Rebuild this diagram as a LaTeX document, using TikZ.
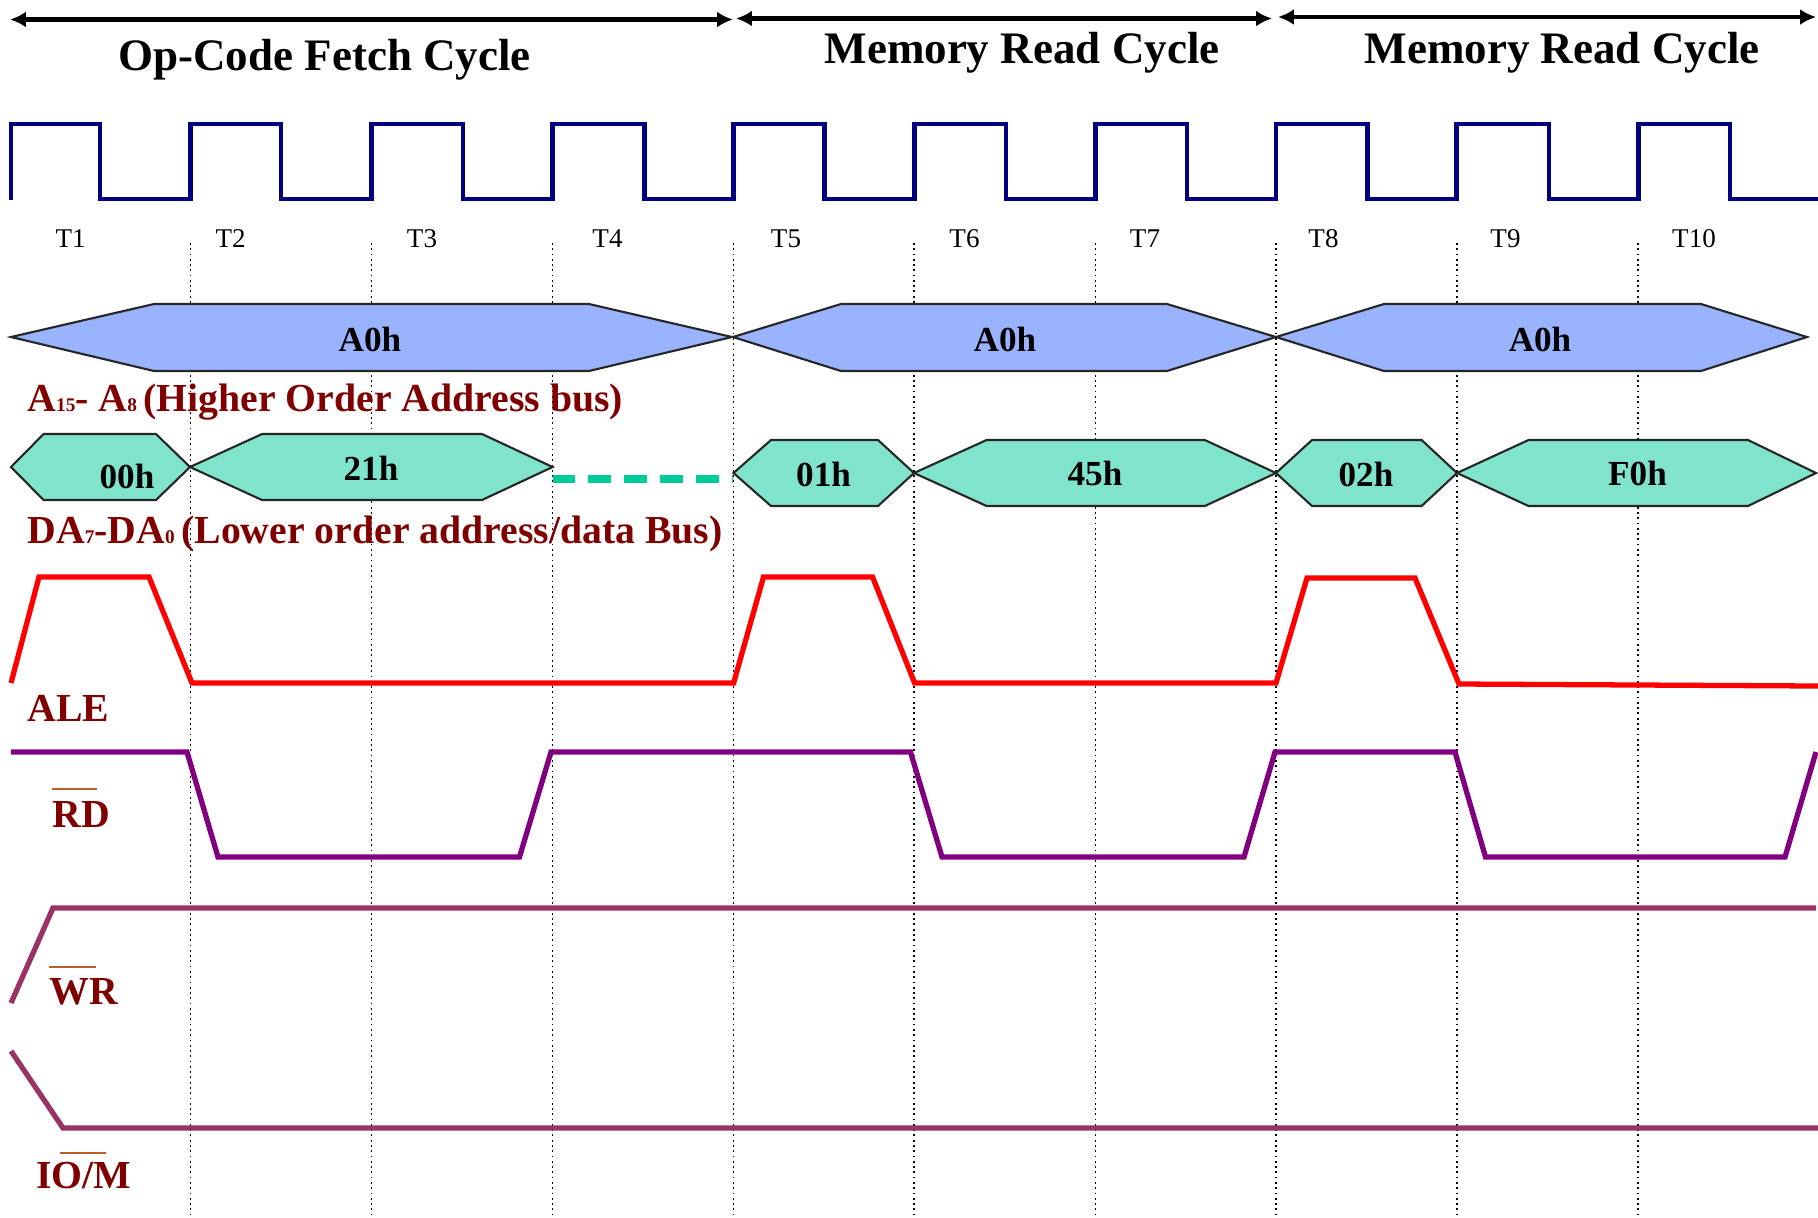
\documentclass[tikz,border=0pt]{standalone}
\usepackage{fontspec}
\setmainfont{Liberation Serif}
\usetikzlibrary{arrows.meta}
\definecolor{clk}{RGB}{0,0,128}
\definecolor{addrfill}{RGB}{153,179,255}
\definecolor{datafill}{RGB}{128,228,204}
\definecolor{dashgreen}{RGB}{0,204,153}
\definecolor{alecol}{RGB}{255,0,0}
\definecolor{rdcol}{RGB}{128,0,128}
\definecolor{wrcol}{RGB}{153,51,102}
\definecolor{lblcol}{RGB}{128,0,0}
\definecolor{barcol}{RGB}{185,95,45}
\newcommand{\sbs}[1]{{\fontsize{5.5pt}{6pt}\selectfont #1}}
\tikzset{
  cyclearrow/.style={{Latex[length=4.5pt,width=4.5pt]}-{Latex[length=4.5pt,width=4.5pt]}, line width=1.4pt, black},
  cycletitle/.style={anchor=base, inner sep=0pt, font=\fontsize{12.8pt}{14pt}\selectfont\bfseries},
  tlabel/.style={anchor=base, inner sep=0pt, font=\fontsize{7.7pt}{8pt}\selectfont},
  gridline/.style={densely dotted, line width=0.5pt, black},
  clock/.style={clk, line width=1.4pt, line join=miter},
  addrhex/.style={fill=addrfill, draw=black!85, line width=0.6pt},
  datahex/.style={fill=datafill, draw=black!85, line width=0.6pt},
  hexlabel/.style={anchor=base, inner sep=0pt, font=\fontsize{10pt}{11pt}\selectfont\bfseries},
  siglabel/.style={anchor=base west, inner sep=0pt, text=lblcol, font=\fontsize{11.3pt}{12pt}\selectfont\bfseries},
  barline/.style={barcol, line width=0.5pt},
  signal/.style={line width=1.5pt, line join=miter}
}
\begin{document}
\begin{tikzpicture}[x=0.01cm,y=-0.01cm]
\useasboundingbox (0,0) rectangle (1818,1217);
% boundaries
\foreach \n/\x in {0/10,1/190.5,2/371.4,3/552.6,4/733.4,5/914.3,6/1095.5,7/1276,8/1456.8,9/1638.2}
  \coordinate (b\n) at (\x,0);
\coordinate (bend) at (1816,0);
% cycle arrows
\coordinate (a1s) at (10,19.5);
\coordinate (a1e) at (733,19.5);
\coordinate (a2s) at (736,18.5);
\coordinate (a2e) at (1272,18.5);
\coordinate (a3s) at (1278,17);
\coordinate (a3e) at (1816,17);
\draw[cyclearrow] (a1s) -- (a1e);
\draw[cyclearrow] (a2s) -- (a2e);
\draw[cyclearrow] (a3s) -- (a3e);
\node[cycletitle] (t1) at (324.5,70) {Op-Code Fetch Cycle};
\node[cycletitle] (t2) at (1022,63) {Memory Read Cycle};
\node[cycletitle] (t3) at (1562,63) {Memory Read Cycle};
% grid lines
\foreach \n in {1,...,9}
  \draw[gridline] (b\n |- 0,243) -- (b\n |- 0,1217);
% clock
\draw[clock] (11,200) -- (11,124) -- (100,124) -- (100,199) -- (190.5,199) -- (190.5,124)
  -- (281,124) -- (281,199) -- (371.4,199) -- (371.4,124)
  -- (463,124) -- (463,199) -- (552.6,199) -- (552.6,124)
  -- (644.5,124) -- (644.5,199) -- (733.4,199) -- (733.4,124)
  -- (824.5,124) -- (824.5,199) -- (914.3,199) -- (914.3,124)
  -- (1006,124) -- (1006,199) -- (1095.5,199) -- (1095.5,124)
  -- (1187,124) -- (1187,199) -- (1276,199) -- (1276,124)
  -- (1367.5,124) -- (1367.5,199) -- (1456.8,199) -- (1456.8,124)
  -- (1549,124) -- (1549,199) -- (1638.2,199) -- (1638.2,124)
  -- (1730,124) -- (1730,199) -- (1818,199);
% T labels
\node[tlabel] (T1) at (70.7,247) {T1};
\node[tlabel] (T2) at (230.7,247) {T2};
\node[tlabel] (T3) at (422,247) {T3};
\node[tlabel] (T4) at (607.5,247) {T4};
\node[tlabel] (T5) at (786,247) {T5};
\node[tlabel] (T6) at (964.5,247) {T6};
\node[tlabel] (T7) at (1145,247) {T7};
\node[tlabel] (T8) at (1323.5,247) {T8};
\node[tlabel] (T9) at (1505.5,247) {T9};
\node[tlabel] (T10) at (1694,247) {T10};
% address bus
\draw[addrhex] (11,337) -- (154,304) -- (589,304) -- (732,337) -- (589,371) -- (154,371) -- cycle;
\draw[addrhex] (733,337) -- (841,304) -- (1167,304) -- (1276,337) -- (1167,371) -- (841,371) -- cycle;
\draw[addrhex] (1276,337) -- (1384,304) -- (1701,304) -- (1807,337) -- (1701,371) -- (1384,371) -- cycle;
\node[hexlabel] (ah1) at (370,351) {A0h};
\node[hexlabel] (ah2) at (1005,351) {A0h};
\node[hexlabel] (ah3) at (1540,351) {A0h};
\node[siglabel] (lblA) at (26.7,411) {A\sbs{15}- A\sbs{8}\,(Higher Order Address bus)};
% data bus
\draw[datahex] (11,467) -- (43.6,434) -- (156,434) -- (190,467) -- (156,500) -- (43.6,500) -- cycle;
\draw[datahex] (190,467) -- (262,434) -- (482,434) -- (552.6,467) -- (482,500) -- (262,500) -- cycle;
\coordinate (dz1) at (552.6,479);
\coordinate (dz2) at (733,479);
\draw[dashgreen, line width=2.3pt, dash pattern=on 6.5pt off 3.7pt] (dz1) -- (dz2);
\draw[datahex] (733.5,473) -- (771,440) -- (878,440) -- (914,473) -- (878,506) -- (771,506) -- cycle;
\draw[datahex] (914,473) -- (986.6,440) -- (1204.8,440) -- (1276,473) -- (1204.8,506) -- (986.6,506) -- cycle;
\draw[datahex] (1276,473) -- (1312,440) -- (1421.6,440) -- (1457,473) -- (1421.6,506) -- (1312,506) -- cycle;
\draw[datahex] (1457,473) -- (1528.5,440) -- (1748,440) -- (1816,473) -- (1748,506) -- (1528.5,506) -- cycle;
\node[hexlabel] (d1) at (127,488) {00h};
\node[hexlabel] (d2) at (371,480) {21h};
\node[hexlabel] (d3) at (823.6,486) {01h};
\node[hexlabel] (d4) at (1095,485) {45h};
\node[hexlabel] (d5) at (1366,486) {02h};
\node[hexlabel] (d6) at (1637.5,485) {F0h};
\node[siglabel] (lblD) at (26.7,543.3) {DA\sbs{7}-DA\sbs{0}\,(Lower order address/data Bus)};
% ALE
\draw[signal, alecol] (11,683) -- (39,577) -- (149,577) -- (192,683) -- (733.6,683) -- (763.5,577)
  -- (872.6,577) -- (914.6,683) -- (1276,683) -- (1307,578) -- (1415,578) -- (1459,684) -- (1818,686);
\node[siglabel] (lblALE) at (27,721) {ALE};
% RD
\draw[signal, rdcol] (11,752) -- (187,752) -- (218,857) -- (519.5,857) -- (551,752) -- (910.5,752)
  -- (942,857) -- (1244,857) -- (1275,752) -- (1455,752) -- (1485.5,857) -- (1785,857) -- (1816,752);
\node[siglabel] (lblRD) at (51.7,827) {RD};
\draw[barline] (51.7,789.3) -- (97.3,789.3);
% WR
\draw[signal, wrcol] (11,1003) -- (53,908) -- (1816,908);
\node[siglabel] (lblWR) at (48.8,1004) {WR};
\draw[barline] (48.8,967.3) -- (95.9,967.3);
% IO/M
\draw[signal, wrcol] (11,1051) -- (63,1128) -- (1818,1128);
\node[siglabel] (lblIOM) at (35.6,1188) {IO/M};
\draw[barline] (60.3,1153.3) -- (106.2,1153.3);
\end{tikzpicture}
\end{document}
